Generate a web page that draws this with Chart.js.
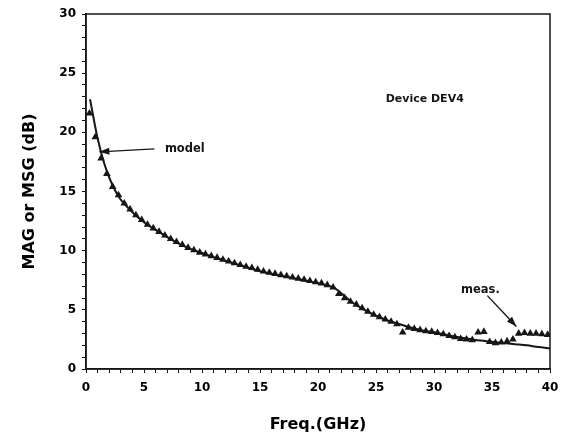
<!DOCTYPE html>
<html>
<head>
<meta charset="utf-8">
<script src="https://cdn.jsdelivr.net/npm/chart.js@4/dist/chart.umd.min.js"></script>
<style>
  html, body { margin: 0; padding: 0; background: #fff; }
  #wrap { width: 563px; height: 440px; position: relative; }
</style>
</head>
<body>
<div id="wrap"><canvas id="c"></canvas></div>
<script>
const MEAS_FREQ = [0.3, 0.8, 1.3, 1.8, 2.3, 2.8, 3.3, 3.8, 4.3, 4.8, 5.3, 5.8, 6.3, 6.8, 7.3, 7.8,
  8.3, 8.8, 9.3, 9.8, 10.3, 10.8, 11.3, 11.8, 12.3, 12.8, 13.3, 13.8, 14.3, 14.8, 15.3, 15.8,
  16.3, 16.8, 17.3, 17.8, 18.3, 18.8, 19.3, 19.8, 20.3, 20.8, 21.3, 21.8, 22.3, 22.8, 23.3, 23.8,
  24.3, 24.8, 25.3, 25.8, 26.3, 26.8, 27.3, 27.8, 28.3, 28.8, 29.3, 29.8, 30.3, 30.8, 31.3, 31.8,
  32.3, 32.8, 33.3, 33.8, 34.3, 34.8, 35.3, 35.8, 36.3, 36.8, 37.3, 37.8, 38.3, 38.8, 39.3, 39.8];
const MEAS_GAIN = [21.6, 19.6, 17.8, 16.5, 15.4, 14.7, 14.0, 13.5, 13.0, 12.6, 12.2, 11.9, 11.6, 11.3, 11.0, 10.75,
  10.5, 10.25, 10.05, 9.85, 9.7, 9.55, 9.4, 9.25, 9.1, 8.95, 8.8, 8.65, 8.55, 8.4, 8.25, 8.15,
  8.05, 7.95, 7.85, 7.75, 7.65, 7.55, 7.45, 7.35, 7.25, 7.1, 6.9, 6.35, 6.0, 5.7, 5.45, 5.15,
  4.85, 4.6, 4.4, 4.2, 4.0, 3.8, 3.1, 3.5, 3.4, 3.3, 3.2, 3.15, 3.05, 2.95, 2.8, 2.7,
  2.55, 2.5, 2.45, 3.1, 3.15, 2.3, 2.2, 2.25, 2.35, 2.5, 3.0, 3.05, 3.0, 3.0, 2.95, 2.9];

// model curve
const MODEL_FREQ = [0.35, 0.5, 0.75, 1, 1.5, 2, 2.5, 3, 3.5, 4, 5, 6, 7, 8, 9, 10, 11, 12, 13, 14,
  15, 16, 17, 18, 19, 20, 21, 21.5, 22, 23, 24, 25, 26, 27, 28, 29, 30, 31, 32, 33, 34, 35, 36, 37, 38, 39, 40];
const MODEL_GAIN = [22.8, 22.0, 20.7, 19.5, 17.6, 16.2, 15.1, 14.3, 13.75, 13.25, 12.4, 11.75, 11.15, 10.6, 10.15,
  9.8, 9.45, 9.15, 8.85, 8.55, 8.25, 8.05, 7.85, 7.65, 7.45, 7.25, 7.0, 6.8, 6.4, 5.6, 5.0, 4.5, 4.1, 3.8,
  3.5, 3.25, 3.1, 2.9, 2.7, 2.55, 2.4, 2.3, 2.2, 2.1, 2.0, 1.85, 1.75];

const X_LABELS = [0, 5, 10, 15, 20, 25, 30, 35, 40];
const Y_LABELS = [0, 5, 10, 15, 20, 25, 30];

// annotations in data coordinates: text anchor, arrow tail, arrow tip
const NOTE_MODEL = { text: "model", at: [6.8, 18.6], from: [5.9, 18.6], to: [1.15, 18.35] };
const NOTE_MEAS = { text: "meas.", at: [34.0, 6.7], from: [34.6, 6.2], to: [37.1, 3.6] };
const NOTE_DEVICE = { text: "Device DEV4", at: [29.2, 22.8] };

const INK = "#161616";
const FONT = "'DejaVu Sans', 'Liberation Sans', Arial, sans-serif";

function arrow(ctx, x0, y0, x1, y1) {
  const a = Math.atan2(y1 - y0, x1 - x0), L = 10, W = 3.5;
  ctx.beginPath(); ctx.moveTo(x0, y0); ctx.lineTo(x1, y1); ctx.stroke();
  ctx.beginPath();
  ctx.moveTo(x1, y1);
  ctx.lineTo(x1 - L * Math.cos(a) + W * Math.sin(a), y1 - L * Math.sin(a) - W * Math.cos(a));
  ctx.lineTo(x1 - L * Math.cos(a) - W * Math.sin(a), y1 - L * Math.sin(a) + W * Math.cos(a));
  ctx.closePath(); ctx.fill();
}

const notes = {
  id: "notes",
  afterDraw(chart) {
    const { ctx, chartArea: ca, scales: { x, y } } = chart;
    const px = (p) => [x.getPixelForValue(p[0]), y.getPixelForValue(p[1])];
    ctx.save();
    ctx.strokeStyle = INK; ctx.fillStyle = INK; ctx.lineWidth = 1.5;
    ctx.strokeRect(ca.left, ca.top, ca.right - ca.left, ca.bottom - ca.top);
    ctx.lineWidth = 1.4;
    for (const n of [NOTE_MODEL, NOTE_MEAS]) {
      const [fx, fy] = px(n.from), [tx, ty] = px(n.to);
      arrow(ctx, fx, fy, tx, ty);
    }
    ctx.font = "bold 11.5px " + FONT;
    ctx.textBaseline = "middle";
    ctx.textAlign = "left";
    let p = px(NOTE_MODEL.at); ctx.fillText(NOTE_MODEL.text, p[0], p[1]);
    ctx.textAlign = "center";
    p = px(NOTE_MEAS.at); ctx.fillText(NOTE_MEAS.text, p[0], p[1]);
    ctx.font = "bold 11px " + FONT;
    p = px(NOTE_DEVICE.at); ctx.fillText(NOTE_DEVICE.text, p[0], p[1]);
    ctx.restore();
  },
};

new Chart(document.getElementById("c"), {
  type: "scatter",
  data: {
    datasets: [
      {
        label: "model",
        data: MODEL_FREQ.map((f, i) => ({ x: f, y: MODEL_GAIN[i] })),
        showLine: true, borderColor: INK, borderWidth: 2, pointRadius: 0,
        cubicInterpolationMode: "monotone",
      },
      {
        label: "meas.",
        data: MEAS_FREQ.map((f, i) => ({ x: f, y: MEAS_GAIN[i] })),
        pointStyle: "triangle", pointRadius: 4.4, borderWidth: 0,
        backgroundColor: INK, borderColor: INK,
      },
    ],
  },
  options: {
    responsive: true, maintainAspectRatio: false, animation: false,
    layout: { padding: { top: 14, right: 13, left: 0, bottom: 0 } },
    plugins: { legend: { display: false }, tooltip: { enabled: false } },
    scales: {
      x: {
        type: "linear", min: 0, max: 40,
        afterFit: (s) => { s.height = 71; s.paddingRight = 0; s.paddingLeft = 0; },
        border: { color: INK, width: 1.5 },
        grid: { drawOnChartArea: false, color: INK, tickLength: 4 },
        ticks: {
          stepSize: 1, autoSkip: false, maxRotation: 0, color: "#000", padding: 8,
          font: { family: FONT, weight: "bold", size: 12 },
          callback: (v) => (X_LABELS.includes(v) ? String(v) : ""),
        },
        title: {
          display: true, text: "Freq.(GHz)", color: "#000",
          font: { family: FONT, weight: "bold", size: 16 },
          padding: { top: 0, bottom: 6 },
        },
      },
      y: {
        type: "linear", min: 0, max: 30,
        afterFit: (s) => { s.width = 86; s.paddingTop = 0; s.paddingBottom = 0; },
        border: { color: INK, width: 1.5 },
        grid: { drawOnChartArea: false, color: INK, tickLength: 4 },
        ticks: {
          stepSize: 1, autoSkip: false, color: "#000", padding: 6,
          font: { family: FONT, weight: "bold", size: 12 },
          callback: (v) => (Y_LABELS.includes(v) ? String(v) : ""),
        },
        title: {
          display: true, text: "MAG or MSG (dB)", color: "#000",
          font: { family: FONT, weight: "bold", size: 16 },
          padding: { top: 20, bottom: 0 },
        },
      },
    },
  },
  plugins: [notes],
});
</script>
</body>
</html>
